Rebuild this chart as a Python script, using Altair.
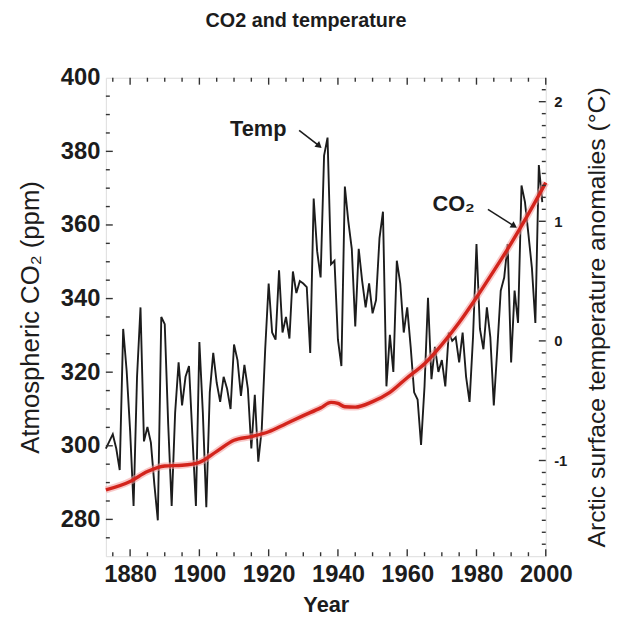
import altair as alt
import pandas as pd

# ---------------- data ----------------
# Arctic surface temperature anomalies (deg C), one value per year from 1873
temp_start_year = 1873
temp_values = [
    -0.90, -0.84, -0.78, -0.90, -1.08, 0.10, -0.25, -0.75, -1.38, -0.30,   # 1873-1882
    0.28, -0.84, -0.72, -0.85, -1.20, -1.50, 0.20, 0.14, -0.70, -1.38,     # 1883-1892
    -0.60, -0.18, -0.54, -0.30, -0.21, -0.80, -1.38, -0.01, -0.60, -1.39,  # 1893-1902
    -0.43, -0.10, -0.35, -0.51, -0.30, -0.40, -0.57, -0.03, -0.16, -0.46,  # 1903-1912
    -0.20, -0.40, -0.90, -0.45, -1.01, -0.74, -0.07, 0.48, 0.07, 0.01,     # 1913-1922
    0.59, 0.07, 0.20, 0.02, 0.58, 0.40, 0.50, 0.48, 0.45, -0.10,           # 1923-1932
    1.19, 0.75, 0.53, 1.55, 1.70, 0.64, 0.67, 0.01, -0.21, 1.29,           # 1933-1942
    1.00, 0.77, 0.12, 0.77, 0.50, 0.28, 0.48, 0.23, 0.34, 0.86,            # 1943-1952
    1.08, -0.38, 0.05, -0.26, 0.67, 0.48, 0.07, 0.28, -0.05, -0.43,        # 1953-1962
    -0.49, -0.87, -0.38, 0.36, -0.32, -0.05, -0.26, -0.16, -0.38, 0.07,    # 1963-1972
    0.00, 0.03, -0.18, 0.07, -0.30, -0.51, 0.03, 0.81, 0.10, -0.07,        # 1973-1982
    0.28, 0.03, -0.54, -0.07, 0.42, 0.53, 0.81, -0.18, 0.42, 0.15,         # 1983-1992
    1.30, 1.16, 0.89, 0.61, 0.15, 1.47, 1.16,                              # 1993-1999
]
temp_years = list(range(temp_start_year, temp_start_year + len(temp_values)))

# Atmospheric CO2 (ppm)
co2_years = [1873, 1880, 1885, 1890, 1895, 1900, 1905, 1910, 1915, 1920, 1925,
             1930, 1935, 1938, 1940, 1942, 1945, 1950, 1955, 1960, 1965, 1970,
             1975, 1980, 1985, 1990, 1995, 2000]
co2_values = [288.0, 290.3, 293.0, 294.5, 294.7, 295.5, 298.5, 301.5, 302.5, 303.8,
              306.0, 308.2, 310.3, 311.8, 311.5, 310.6, 310.5, 312.0, 314.5, 318.5,
              322.3, 327.5, 333.5, 340.3, 347.5, 355.0, 363.0, 371.5]

# axis labels
x_label_years = [1880, 1900, 1920, 1940, 1960, 1980, 2000]
co2_labels = [280, 300, 320, 340, 360, 380, 400]
temp_labels = [-1, 0, 1, 2]
# inward tick marks
x_minor = list(range(1875, 2001, 5))
co2_minor = list(range(275, 400, 5))
temp_minor = [round(-1.7 + 0.1 * i, 1) for i in range(39)]

# annotations
note_text = ["Temp", "CO₂"]
note_year = [1917.0, 1973.4]
note_temp = [1.77, 1.14]
arrow_year = [1928.8, 1983.3]
arrow_temp = [1.76, 1.10]
arrow_year2 = [1934.6, 1990.9]
arrow_temp2 = [1.63, 0.96]
arrow_angle = [40, 33]

# ---------------- chart ----------------
W, H = 445, 484
FONT = "Liberation Sans"
INK = "#1c1c1c"
TICK = "#333333"

x_scale = alt.Scale(domain=[1873, 2000], nice=False, zero=False)
co2_scale = alt.Scale(domain=[270, 400], nice=False, zero=False)
temp_scale = alt.Scale(domain=[-1.8, 2.2], nice=False, zero=False)

x_axis = alt.Axis(values=x_label_years, format="d", title="Year",
                  labelFont=FONT, labelFontSize=24, labelFontWeight="bold", labelColor=INK,
                  titleFont=FONT, titleFontSize=22, titleFontWeight="bold", titleColor=INK,
                  ticks=False, domain=False, grid=False, labelPadding=7, titlePadding=8,
                  labelFlush=False, labelOverlap=False)


def X(field):
    return alt.X(field, scale=x_scale, axis=x_axis, title="Year")


left_axis = alt.Axis(values=co2_labels, orient="left", title="Atmospheric CO₂ (ppm)",
                     labelFont=FONT, labelFontSize=24, labelFontWeight="bold", labelColor=INK,
                     titleFont=FONT, titleFontSize=26, titleFontWeight="normal", titleColor=INK,
                     titleAngle=270, titleX=-76, titleY=H / 2, titleAlign="center",
                     titleBaseline="middle",
                     ticks=False, domain=False, grid=False, labelPadding=6, labelFlush=False)

right_axis = alt.Axis(values=temp_labels, orient="right",
                      title="Arctic surface temperature anomalies (°C)",
                      labelFont=FONT, labelFontSize=15, labelFontWeight="bold", labelColor=INK,
                      labelExpr="replace(datum.label, '−', '-')",
                      titleFont=FONT, titleFontSize=25, titleFontWeight="normal", titleColor=INK,
                      titleAngle=270, titleX=51, titleY=H / 2, titleAlign="center",
                      titleBaseline="middle",
                      ticks=False, domain=False, grid=False, labelPadding=8, labelFlush=False)

temp_df = pd.DataFrame({"year": temp_years, "temp": temp_values})
co2_df = pd.DataFrame({"year": co2_years, "co2": co2_values})

temp_line = alt.Chart(temp_df).mark_line(color=INK, strokeWidth=1.9).encode(
    x=X("year:Q"),
    y=alt.Y("temp:Q", scale=temp_scale, axis=right_axis),
)

co2_glow = alt.Chart(co2_df).mark_line(color="#f39a9a", strokeWidth=7, opacity=0.55,
                                       interpolate="monotone").encode(
    x=X("year:Q"),
    y=alt.Y("co2:Q", scale=co2_scale, axis=None),
)
co2_line = alt.Chart(co2_df).mark_line(color="#d3241c", strokeWidth=3.4,
                                       interpolate="monotone").encode(
    x=X("year:Q"),
    y=alt.Y("co2:Q", scale=co2_scale, axis=left_axis),
)


def x_ticks(at_top):
    df = pd.DataFrame({"v": x_minor, "major": [v in x_label_years for v in x_minor]})
    out = []
    for major, ln in ((True, 7), (False, 4)):
        sub = df[df["major"] == major]
        y0, y1 = (0, ln) if at_top else (H, H - ln)
        out.append(alt.Chart(sub).mark_rule(color=TICK, strokeWidth=1.4).encode(
            x=X("v:Q"), y=alt.value(y0), y2=alt.value(y1)))
    return out


def y_ticks(values, majors, scale, right):
    out = []
    df = pd.DataFrame({"v": values})
    df["major"] = [any(abs(v - m) < 1e-9 for m in majors) for v in values]
    for major, ln in ((True, 7), (False, 4)):
        sub = df[df["major"] == major]
        x0, x1 = (W, W - ln) if right else (0, ln)
        out.append(alt.Chart(sub).mark_rule(color=TICK, strokeWidth=1.4).encode(
            y=alt.Y("v:Q", scale=scale, axis=None),
            x=alt.value(x0), x2=alt.value(x1)))
    return out


notes_df = pd.DataFrame({"t": note_text, "year": note_year, "temp": note_temp})
arrows_df = pd.DataFrame({"year": arrow_year, "temp": arrow_temp,
                          "year2": arrow_year2, "temp2": arrow_temp2,
                          "ang": arrow_angle})

notes = alt.Chart(notes_df).mark_text(font=FONT, fontSize=22, fontWeight="bold",
                                      color=INK, align="center", baseline="middle").encode(
    x=X("year:Q"),
    y=alt.Y("temp:Q", scale=temp_scale, axis=None),
    text="t:N",
)
arrow_shafts = alt.Chart(arrows_df).mark_rule(color=INK, strokeWidth=1.6).encode(
    x=X("year:Q"),
    y=alt.Y("temp:Q", scale=temp_scale, axis=None),
    x2="year2:Q", y2="temp2:Q",
)
arrow_heads = alt.Chart(arrows_df).mark_point(shape="triangle-right", filled=True,
                                              size=55, color=INK, opacity=1).encode(
    x=X("year2:Q"),
    y=alt.Y("temp2:Q", scale=temp_scale, axis=None),
    angle=alt.Angle("ang:Q", scale=None),
)

layers = [temp_line, co2_glow, co2_line]
layers += x_ticks(False) + x_ticks(True)
layers += y_ticks(co2_minor, co2_labels, co2_scale, right=False)
layers += y_ticks(temp_minor, temp_labels, temp_scale, right=True)
layers += [notes, arrow_shafts, arrow_heads]

chart = alt.layer(*layers).resolve_scale(y="independent").properties(
    width=W, height=H,
    title=alt.TitleParams("CO2 and temperature", font=FONT, fontSize=20,
                          fontWeight="bold", color=INK, anchor="middle",
                          offset=35, dx=-20, frame="group"),
    autosize=alt.AutoSizeParams(type="none"),
    padding={"left": 99, "top": 67, "right": 66, "bottom": 62},
).configure_view(stroke="#333333", strokeWidth=2).configure(background="white")

chart.save("out.html", embed_options={"renderer": "svg", "actions": False})
